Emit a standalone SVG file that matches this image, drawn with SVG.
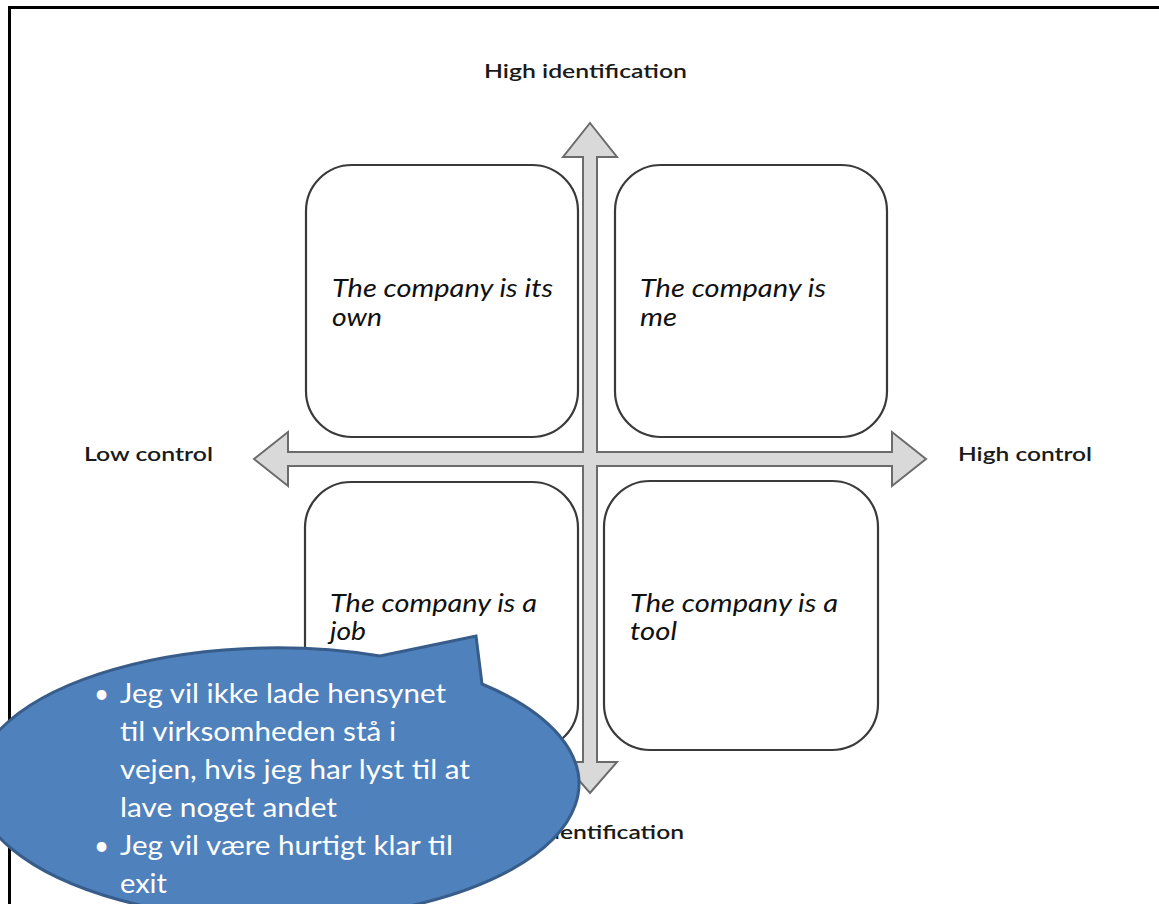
<svg xmlns="http://www.w3.org/2000/svg" width="1159" height="904" viewBox="0 0 1159 904">
<style>
.box{fill:#ffffff;stroke:#3a3a3a;stroke-width:2.2}
.lbl{font-family:Lato,"Open Sans","Liberation Sans",sans-serif;font-size:20px;fill:#1a1a1a;font-weight:600}
.qt{font-family:Lato,"Open Sans","Liberation Sans",sans-serif;font-size:25px;font-style:italic;fill:#111111}
.ct{font-family:Lato,"Open Sans","Liberation Sans",sans-serif;font-size:26px;fill:#ffffff}
</style>
<rect x="0" y="0" width="1159" height="904" fill="#ffffff"/>
<path d="M9.5,904 V7.5 H1159" fill="none" stroke="#000000" stroke-width="3"/>

<g id="connectors">
<path d="M590,123 L617,157 L597,157 L597,452 L892,452 L892,432 L926,459 L892,486 L892,466 L597,466 L597,762 L617,762 L590,793 L563,762 L583,762 L583,466 L288,466 L288,486 L254,459 L288,432 L288,452 L583,452 L583,157 L563,157 Z" fill="#d9d9d9" stroke="#6b6b6b" stroke-width="2" stroke-linejoin="miter"/>
</g>

<g id="label-high-identification"><text class="lbl" x="484" y="78" textLength="203" lengthAdjust="spacingAndGlyphs">High identification</text></g>
<g id="label-low-identification"><text class="lbl" x="489" y="839" textLength="195" lengthAdjust="spacingAndGlyphs">Low identification</text></g>
<g id="label-low-control"><text class="lbl" x="84" y="461" textLength="129" lengthAdjust="spacingAndGlyphs">Low control</text></g>
<g id="label-high-control"><text class="lbl" x="958" y="461" textLength="134" lengthAdjust="spacingAndGlyphs">High control</text></g>

<g id="node-its-own">
<rect class="box" x="306" y="165" width="272" height="272" rx="46"/>
<text class="qt" x="332" y="297" textLength="221" lengthAdjust="spacingAndGlyphs">The company is its</text>
<text class="qt" x="332" y="326" textLength="50" lengthAdjust="spacingAndGlyphs">own</text>
</g>
<g id="node-me">
<rect class="box" x="615" y="165" width="272" height="272" rx="46"/>
<text class="qt" x="640" y="297" textLength="186" lengthAdjust="spacingAndGlyphs">The company is</text>
<text class="qt" x="640" y="326" textLength="37" lengthAdjust="spacingAndGlyphs">me</text>
</g>
<g id="node-job">
<rect class="box" x="305" y="482" width="273" height="268" rx="46"/>
<text class="qt" x="330" y="612" textLength="207" lengthAdjust="spacingAndGlyphs">The company is a</text>
<text class="qt" x="330" y="640" textLength="36" lengthAdjust="spacingAndGlyphs">job</text>
</g>
<g id="node-tool">
<rect class="box" x="604" y="481" width="274" height="269" rx="46"/>
<text class="qt" x="630" y="612" textLength="208" lengthAdjust="spacingAndGlyphs">The company is a</text>
<text class="qt" x="630" y="640" textLength="47" lengthAdjust="spacingAndGlyphs">tool</text>
</g>

<g id="callout">
<path d="M380,656 L476,636 L482,684 A302,136 0 1 1 380,656 Z" fill="#4f81bd" stroke="#385d8a" stroke-width="3" stroke-linejoin="miter"/>
<g class="ct">
<text x="94" y="703">•</text>
<text x="120" y="703" textLength="326" lengthAdjust="spacingAndGlyphs">Jeg vil ikke lade hensynet</text>
<text x="120" y="741" textLength="276" lengthAdjust="spacingAndGlyphs">til virksomheden stå i</text>
<text x="120" y="779" textLength="350" lengthAdjust="spacingAndGlyphs">vejen, hvis jeg har lyst til at</text>
<text x="120" y="817" textLength="217" lengthAdjust="spacingAndGlyphs">lave noget andet</text>
<text x="94" y="855">•</text>
<text x="120" y="855" textLength="333" lengthAdjust="spacingAndGlyphs">Jeg vil være hurtigt klar til</text>
<text x="120" y="893" textLength="47" lengthAdjust="spacingAndGlyphs">exit</text>
</g>
</g>
</svg>
